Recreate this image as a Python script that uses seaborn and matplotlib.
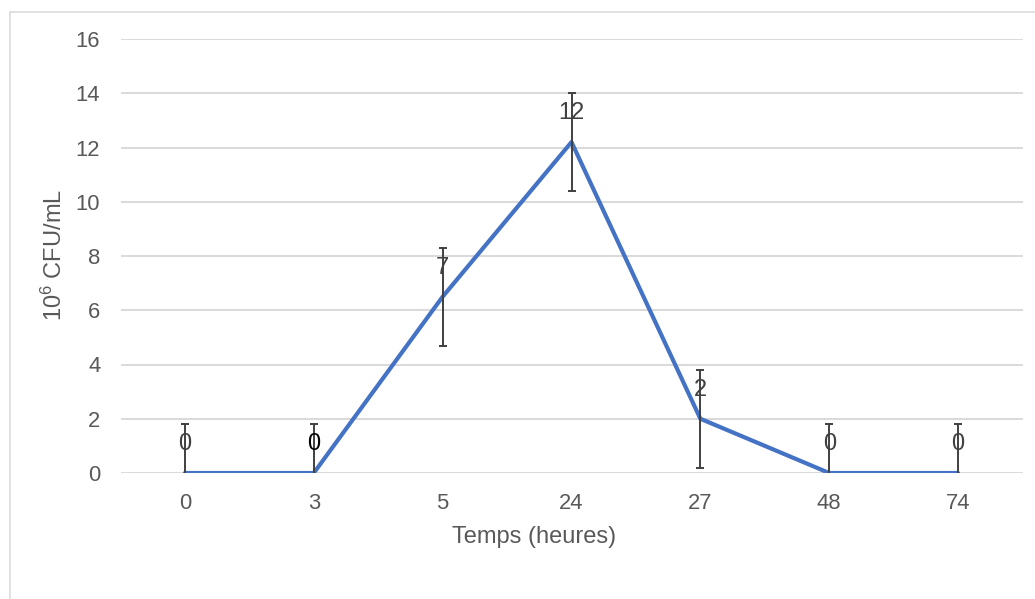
import matplotlib
matplotlib.use("Agg")
import matplotlib.pyplot as plt
import seaborn as sns
import pandas as pd
from matplotlib.lines import Line2D

categories = ["0", "3", "5", "24", "27", "48", "74"]
values = [0.0, 0.0, 6.5, 12.2, 2.0, 0.0, 0.0]
errors = [1.8, 1.8, 1.8, 1.8, 1.8, 1.8, 1.8]
labels = ["0", "0", "7", "12", "2", "0", "0"]
y_ticks = [0, 2, 4, 6, 8, 10, 12, 14, 16]

sns.set_theme(style="white")
plt.rcParams['font.family'] = ['Liberation Sans', 'DejaVu Sans']
plt.rcParams['mathtext.fontset'] = 'custom'
plt.rcParams['mathtext.rm'] = 'Liberation Sans'
plt.rcParams['mathtext.default'] = 'regular'

W, H = 1035, 599
fig = plt.figure(figsize=(W / 100, H / 100), dpi=100)
ax = fig.add_axes([120.5 / W, (H - 473) / H, 902 / W, 434 / H])

df = pd.DataFrame({"t": categories, "v": values})
sns.lineplot(data=df, x="t", y="v", ax=ax, color="#4472C4", linewidth=3.0,
             sort=False, zorder=3)
ax.errorbar(categories, values, yerr=errors, fmt="none", ecolor="#404040",
            elinewidth=1.4, capsize=3.0, capthick=1.4, zorder=4)

for i, (v, lab) in enumerate(zip(values, labels)):
    col = "#000000" if i == 1 else "#404040"
    ax.annotate(lab, (i, v), xytext=(0, 21), textcoords="offset points",
                ha="center", va="center", fontsize=17, color=col, zorder=5)

ax.set_xlim(-0.5, len(categories) - 0.5)
ax.set_ylim(0, 16)
ax.set_yticks(y_ticks)
ax.grid(axis="y", color="#d9d9d9", linewidth=1.4)
ax.grid(axis="x", visible=False)
ax.set_axisbelow(True)
for s in ax.spines.values():
    s.set_visible(False)
ax.tick_params(axis="both", length=0, labelsize=15.8, labelcolor="#595959")
ax.tick_params(axis="y", pad=14.5)
ax.tick_params(axis="x", pad=14.5)

ax.set_xlabel("Temps (heures)", fontsize=17, color="#595959")
ax.set_ylabel("10$^{6}$ CFU/mL", fontsize=17, color="#595959")
ax.xaxis.set_label_coords((534 - 120.5) / 902, (473 - 537) / 434)
ax.xaxis.label.set_va("center")
ax.yaxis.set_label_coords((54 - 120.5) / 902, (473 - 255) / 434)
ax.yaxis.label.set_va("center")
ax.yaxis.label.set_ha("center")

# outer chart border (left and top visible)
fig.add_artist(Line2D([10 / W, 10 / W], [0, 1 - 12 / H], transform=fig.transFigure,
                      color="#d9d9d9", linewidth=1.1))
fig.add_artist(Line2D([10 / W, 1], [1 - 12 / H, 1 - 12 / H], transform=fig.transFigure,
                      color="#d9d9d9", linewidth=1.1))

fig.savefig("out.png", dpi=100)
